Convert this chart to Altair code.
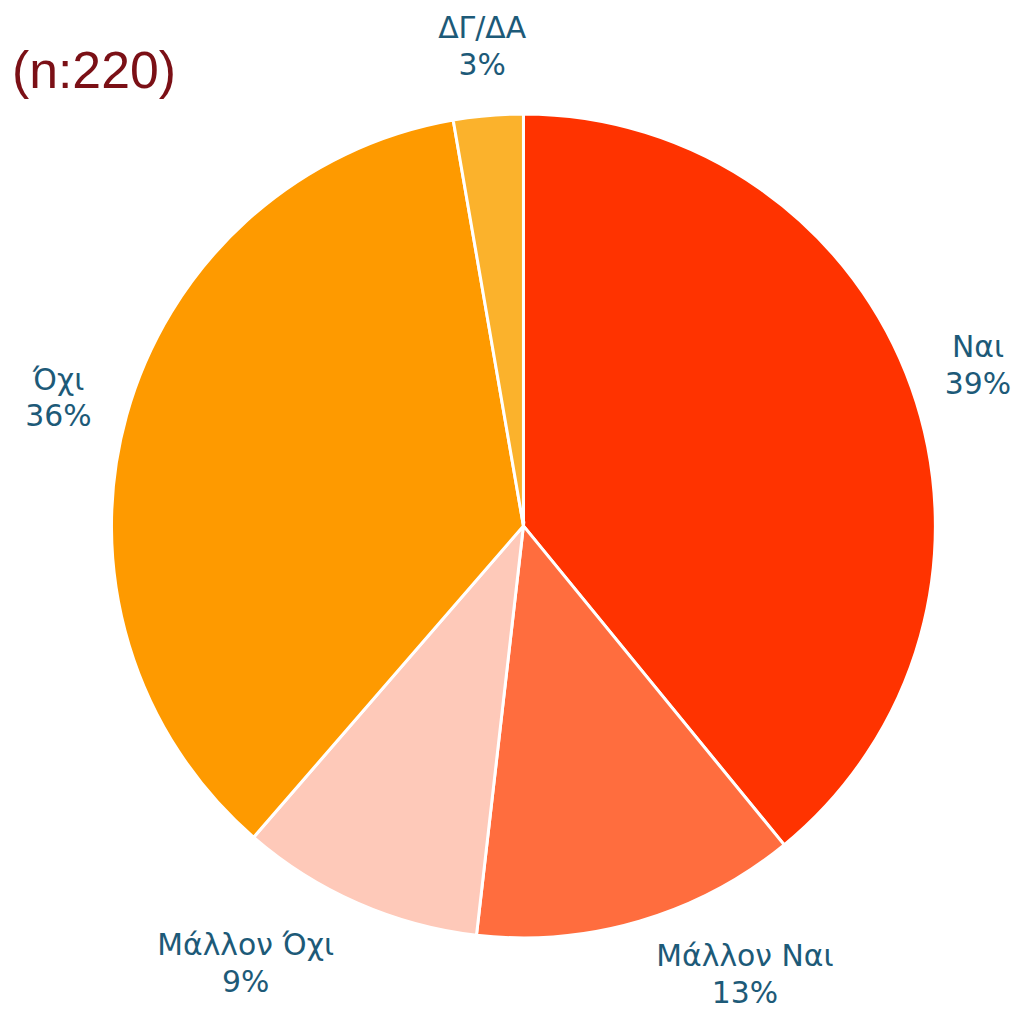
import altair as alt
import pandas as pd

categories = ["Ναι", "Μάλλον Ναι", "Μάλλον Όχι", "Όχι", "ΔΓ/ΔΑ"]
counts = [86, 28, 21, 79, 6]
pct_labels = ["39%", "13%", "9%", "36%", "3%"]
colors = ["#ff3300", "#ff6d3e", "#fec9b9", "#fe9a00", "#fbb22c"]
title_text = "(n:220)"

total = sum(counts)
df = pd.DataFrame({
    "cat": categories,
    "n": counts,
    "idx": list(range(len(categories))),
    "label": [f"{c}\n{p}" for c, p in zip(categories, pct_labels)],
})

CX, CY = 518, 518
R = 414

theta_scale = alt.Scale(domain=[0, total])

base = alt.Chart(df).transform_window(
    end="sum(n)", sort=[alt.SortField("idx")], frame=[None, 0]
).transform_calculate(
    start="datum.end - datum.n", mid="datum.end - datum.n / 2"
).encode(
    x=alt.value(CX),
    y=alt.value(CY),
)

pie = base.mark_arc(outerRadius=R, stroke="white", strokeWidth=3).encode(
    theta=alt.Theta("start:Q", scale=theta_scale),
    theta2="end:Q",
    color=alt.Color("cat:N", scale=alt.Scale(domain=categories, range=colors), legend=None),
)

txt_kw = dict(radius=485, font="DejaVu Sans", fontSize=30, color="#1d5a78",
              lineBreak="\n", lineHeight=37, align="center", baseline="middle")

def label_layer(cats, dx=0, dy=-16):
    return base.transform_filter(
        alt.FieldOneOfPredicate(field="cat", oneOf=cats)
    ).mark_text(dx=dx, dy=dy, **txt_kw).encode(
        theta=alt.Theta("mid:Q", scale=theta_scale),
        text="label:N",
    )

labels_main = label_layer(["Ναι", "Όχι", "ΔΓ/ΔΑ"])
labels_mn = label_layer(["Μάλλον Ναι"], dx=86, dy=-32)
labels_mo = label_layer(["Μάλλον Όχι"], dx=-84, dy=-22)

title = alt.Chart(pd.DataFrame({"t": [title_text]})).mark_text(
    font="Liberation Sans", fontSize=52, color="#7b1016", align="left", baseline="alphabetic"
).encode(text="t:N", x=alt.value(4), y=alt.value(78))

chart = alt.layer(pie, labels_main, labels_mn, labels_mo, title).properties(
    width=1008, height=1007, padding=0, autosize=alt.AutoSizeParams(type="none")
).configure_view(stroke=None)

chart.save("out.html", embed_options={"renderer": "svg", "actions": False})
